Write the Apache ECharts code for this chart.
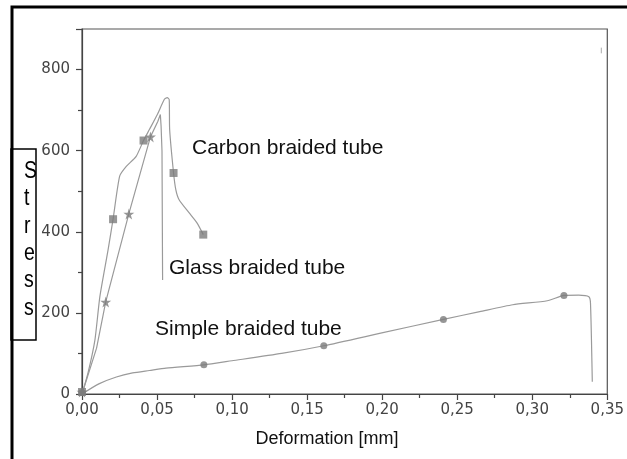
<!DOCTYPE html>
<html>
<head>
<meta charset="utf-8">
<script src="https://cdn.jsdelivr.net/npm/echarts@6/dist/echarts.min.js"></script>
<style>
html,body{margin:0;padding:0;background:#fff;}
#c{width:627px;height:459px;}
</style>
</head>
<body>
<div id="c"></div>
<script>
// ---- data ----
var xTicks = [0, 0.05, 0.10, 0.15, 0.20, 0.25, 0.30, 0.35];
var yTicks = [0, 200, 400, 600, 800];

var carbonLine = [[0,0],[0.004,52],[0.0086,133],[0.0119,240],[0.0174,356],[0.0207,431],[0.0251,537],[0.0295,561],[0.0361,586],[0.041,625],[0.0449,652],[0.0502,689],[0.0548,726],[0.0568,731],[0.0581,726],[0.0584,652],[0.061,545],[0.0625,504],[0.0647,479],[0.0713,447],[0.0766,422],[0.0808,393]];
var carbonMarks = [[0,5],[0.0207,431],[0.041,625],[0.061,545],[0.0808,393]];

var glassLine = [[0,0],[0.0097,113],[0.0158,227],[0.0312,444],[0.0456,634],[0.0505,672],[0.0522,689],[0.0527,660],[0.0533,600],[0.0537,281]];
var glassMarks = [[0,5],[0.0158,227],[0.0312,444],[0.0456,634]];

var simpleLine = [[0,0],[0.0112,25],[0.0229,42],[0.0337,52],[0.0449,58],[0.056,64],[0.0812,72],[0.0999,82],[0.133,100],[0.1611,119],[0.199,150],[0.2408,184],[0.265,203],[0.287,220],[0.310,230],[0.3211,243],[0.331,244],[0.3377,240],[0.3388,224],[0.340,30]];
var simpleMarks = [[0,4],[0.0812,72],[0.1611,119],[0.2408,184],[0.3211,243]];

var strayMark = [[0.346,840],[0.346,854]];

var labels = ['Carbon braided tube', 'Glass braided tube', 'Simple braided tube'];
var yName = 'Stress';
var xName = 'Deformation [mm]';

var starPath = 'path://M50,0 L61,35 L98,35 L68,57 L79,91 L50,70 L21,91 L32,57 L2,35 L39,35 Z';
var lineColor = '#9a9a9a';
var markColor = '#7c7c7c';

var chart = echarts.init(document.getElementById('c'), null, {renderer: 'canvas'});

var stressChildren = [{
  type: 'rect',
  shape: {x: 11, y: 149, width: 25, height: 191},
  style: {fill: '#fff', stroke: '#000', lineWidth: 1.5}
}];
var letters = yName.split('');
letters.forEach(function (ch, i) {
  stressChildren.push({
    type: 'text',
    x: 24, y: 183 + i * 27.4,
    scaleX: 0.85, scaleY: 1,
    style: {
      text: ch, x: 0, y: 0,
      fill: '#000', font: '23px "Liberation Sans", Arial, sans-serif',
      textAlign: 'left', textVerticalAlign: 'bottom'
    }
  });
});

var option = {
  backgroundColor: '#fff',
  animation: false,
  grid: {left: 82, right: 15, top: 29, bottom: 65, show: true, borderColor: '#555', borderWidth: 1.2, backgroundColor: 'transparent'},
  xAxis: {
    type: 'value', min: 0, max: 0.35, interval: 0.05,
    axisLine: {show: true, onZero: false, lineStyle: {color: '#444', width: 1.2}},
    axisTick: {show: true, inside: false, length: 6, lineStyle: {color: '#444', width: 1.2}},
    minorTick: {show: true, splitNumber: 2, length: 4, lineStyle: {color: '#444', width: 1.2}},
    splitLine: {show: false},
    axisLabel: {
      margin: 9, color: '#444', fontSize: 15, fontFamily: '"DejaVu Sans", sans-serif',
      formatter: function (v) { return v.toFixed(2).replace('.', ','); }
    }
  },
  yAxis: {
    type: 'value', min: 0, max: 900, interval: 200,
    axisLine: {show: true, onZero: false, lineStyle: {color: '#444', width: 1.2}},
    axisTick: {show: true, inside: false, length: 6, lineStyle: {color: '#444', width: 1.2}},
    minorTick: {show: true, splitNumber: 2, length: 4, lineStyle: {color: '#444', width: 1.2}},
    splitLine: {show: false},
    axisLabel: {
      margin: 12, color: '#444', fontSize: 15, fontFamily: '"DejaVu Sans", sans-serif',
      showMaxLabel: false
    }
  },
  series: [
    {type: 'line', data: carbonLine, showSymbol: false, smooth: 0.2, lineStyle: {color: lineColor, width: 1.2}, z: 2},
    {type: 'scatter', data: carbonMarks, symbol: 'rect', symbolSize: 8, itemStyle: {color: markColor}, z: 3},
    {type: 'line', data: glassLine, showSymbol: false, lineStyle: {color: lineColor, width: 1.2}, z: 2},
    {type: 'scatter', data: glassMarks, symbol: starPath, symbolSize: 11, itemStyle: {color: markColor}, z: 3},
    {type: 'line', data: simpleLine, showSymbol: false, smooth: 0.2, lineStyle: {color: lineColor, width: 1.2}, z: 2},
    {type: 'scatter', data: simpleMarks, symbol: 'circle', symbolSize: 7, itemStyle: {color: markColor}, z: 3},
    {type: 'line', data: strayMark, showSymbol: false, lineStyle: {color: '#aaa', width: 1}, z: 2}
  ],
  graphic: [
    {type: 'rect', shape: {x: 12, y: 7, width: 700, height: 600}, style: {fill: 'none', stroke: '#000', lineWidth: 3}, z: 100},
    {type: 'group', children: stressChildren, z: 101},
    {type: 'text', style: {text: labels[0], x: 192, y: 148, font: '21px "Liberation Sans", Arial, sans-serif', fill: '#111', textVerticalAlign: 'middle'}, z: 50},
    {type: 'text', style: {text: labels[1], x: 169, y: 268, font: '21px "Liberation Sans", Arial, sans-serif', fill: '#111', textVerticalAlign: 'middle'}, z: 50},
    {type: 'text', style: {text: labels[2], x: 155, y: 329, font: '21px "Liberation Sans", Arial, sans-serif', fill: '#111', textVerticalAlign: 'middle'}, z: 50},
    {type: 'text', style: {text: xName, x: 327, y: 439, font: '18px "Liberation Sans", Arial, sans-serif', fill: '#111', textAlign: 'center', textVerticalAlign: 'middle'}, z: 50}
  ]
};
chart.setOption(option);
</script>
</body>
</html>
